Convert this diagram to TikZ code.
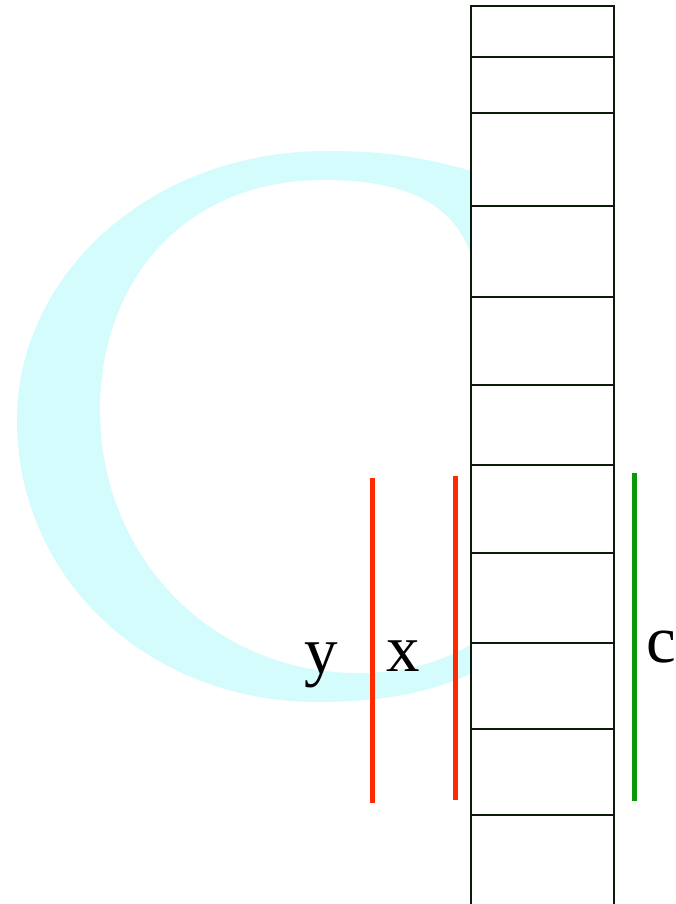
\documentclass[tikz,border=0pt]{standalone}
\usepackage{fontspec}
\setmainfont{Liberation Serif}
\definecolor{bigc}{RGB}{213,252,253}
\definecolor{redline}{RGB}{255,42,0}
\definecolor{greenline}{RGB}{10,153,10}
\definecolor{boxedge}{RGB}{12,26,12}
\tikzset{
  cell/.style={draw=boxedge, line width=2pt, fill=white},
  redbar/.style={draw=redline, line width=5pt},
  greenbar/.style={draw=greenline, line width=5pt},
  lbl/.style={inner sep=0pt, anchor=base, font=\fontsize{67}{67}\selectfont}
}
\begin{document}
\begin{tikzpicture}[x=1pt,y=-1pt]
\useasboundingbox (0,0) rectangle (675,904);
\fill[white] (0,0) rectangle (675,904);
% big background letter C (its open side lies behind the column)
\fill[bigc, even odd rule]
  (482,174) .. controls (425,157) and (385,151) .. (327,151)
            .. controls (150,151) and (17,275) .. (17,420)
            .. controls (17,580) and (150,702) .. (317,702)
            .. controls (390,702) and (440,690) .. (482,668) -- cycle
  (478,280) .. controls (466,215) and (425,180) .. (323,180)
            .. controls (185,180) and (100,280) .. (100,410)
            .. controls (100,560) and (215,673) .. (357,673)
            .. controls (405,673) and (445,662) .. (478,640) -- cycle;
% column of cells
\foreach \a/\b [count=\i] in {6/57,57/113,113/206,206/297,297/385,385/465,465/553,553/643,643/729,729/815,815/910}{
  \draw[cell] (471,\a) rectangle (614,\b);
}
% bars
\coordinate (ytop) at (372,478);
\coordinate (ybot) at (372,803);
\coordinate (xtop) at (455,476);
\coordinate (xbot) at (455,800);
\coordinate (ctop) at (634,473);
\coordinate (cbot) at (634,801);
\draw[redbar] (ytop) -- (ybot);
\draw[redbar] (xtop) -- (xbot);
\draw[greenbar] (ctop) -- (cbot);
% labels
\node[lbl] (ly) at (321,673) {y};
\node[lbl] (lx) at (403,671) {x};
\node[lbl] (lc) at (661,662) {c};
\end{tikzpicture}
\end{document}
